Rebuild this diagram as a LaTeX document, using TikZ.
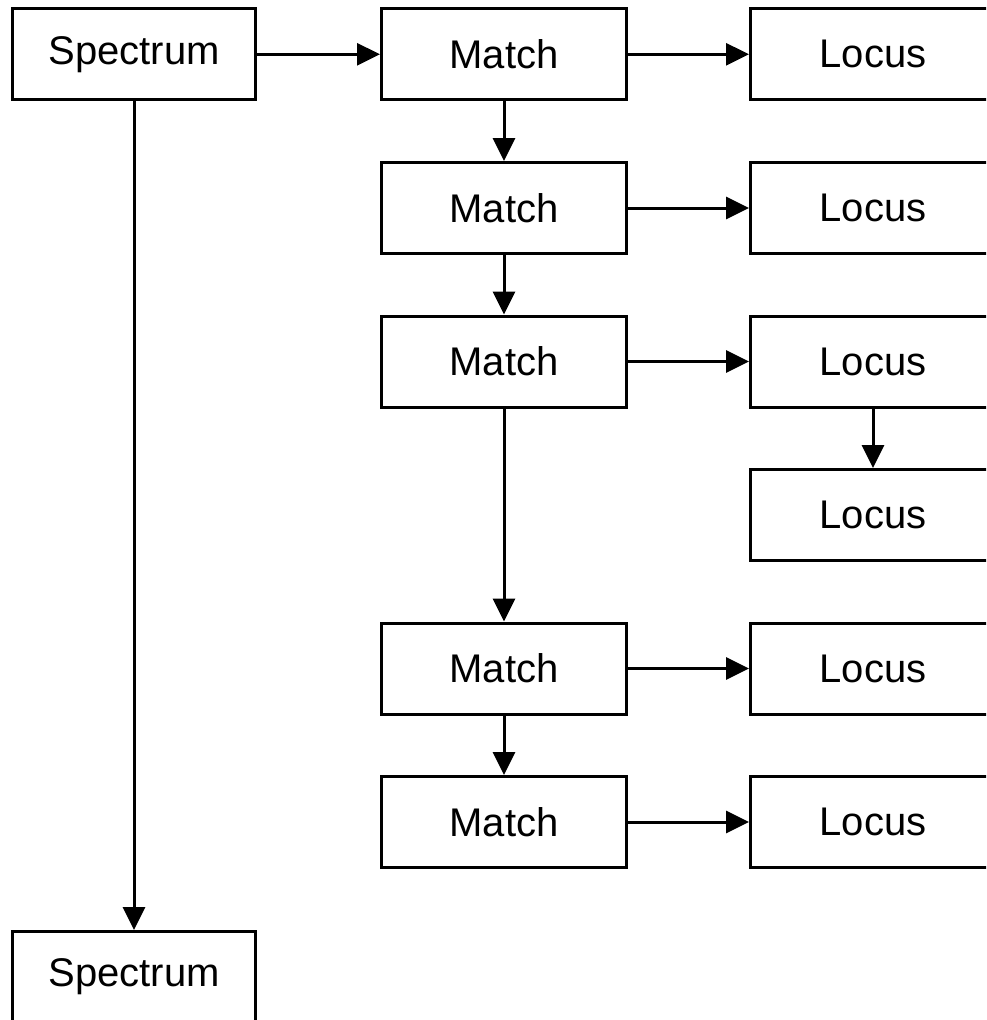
\documentclass[tikz,border=0pt]{standalone}
\usepackage{fontspec}
\setmainfont{Liberation Sans}
\usetikzlibrary{arrows.meta}
\begin{document}
\begin{tikzpicture}[x=1pt,y=-1pt,
  box/.style={draw,line width=3pt,minimum width=245pt,minimum height=91pt,
    inner sep=0pt,font=\fontsize{40}{46}\selectfont},
  link/.style={line width=3pt,-{Triangle[length=23pt,width=22pt]}}]
  \clip (0,0) rectangle (986,1020);
  \fill[white] (0,0) rectangle (986,1020);

  % spectra
  \node[box,minimum width=243pt] (s1) at (134,54.3) {Spectrum};
  \node[box,minimum width=243pt] (s2) at (134,977) {Spectrum};

  % matches
  \node[box] (m1) at (504,54.3) {Match};
  \node[box] (m2) at (504,208) {Match};
  \node[box] (m3) at (504,361.5) {Match};
  \node[box] (m4) at (504,668.5) {Match};
  \node[box] (m5) at (504,822) {Match};

  % loci
  \node[box] (l1) at (873,54.3) {Locus};
  \node[box] (l2) at (873,208) {Locus};
  \node[box] (l3) at (873,361.5) {Locus};
  \node[box] (l4) at (873,515) {Locus};
  \node[box] (l5) at (873,668.5) {Locus};
  \node[box] (l6) at (873,822) {Locus};

  % connectors
  \draw[link] (s1) -- (m1);
  \draw[link] (s1) -- (s2);
  \draw[link] (m1) -- (m2);
  \draw[link] (m2) -- (m3);
  \draw[link] (m3) -- (m4);
  \draw[link] (m4) -- (m5);
  \draw[link] (m1) -- (l1);
  \draw[link] (m2) -- (l2);
  \draw[link] (m3) -- (l3);
  \draw[link] (l3) -- (l4);
  \draw[link] (m4) -- (l5);
  \draw[link] (m5) -- (l6);
\end{tikzpicture}
\end{document}
